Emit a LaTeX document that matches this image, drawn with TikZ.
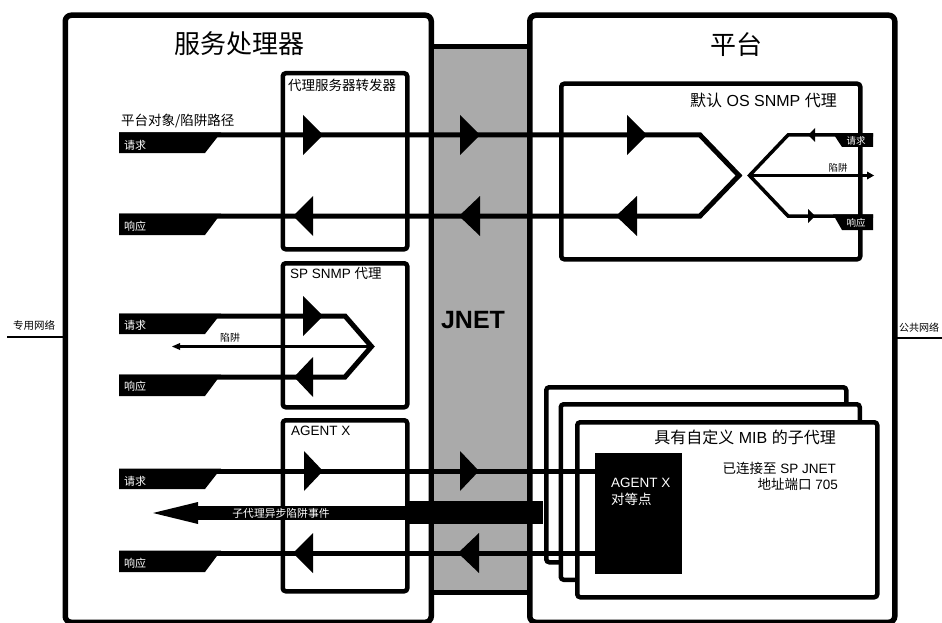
\documentclass[tikz,border=0pt]{standalone}
\usepackage{fontspec}
\setmainfont{Liberation Sans}
\newfontfamily\cjk{Noto Sans CJK SC}
\newcommand{\zhs}[1]{{\cjk #1}}
\newcommand{\arrhd}[4]{\fill (#1,{#3-#4}) -- (#2,#3) -- (#1,{#3+#4}) -- cycle;}
\definecolor{jgray}{RGB}{170,170,170}
\tikzset{
  bigbox/.style={draw=black, line width=5.5pt, rounded corners=6pt, fill=white, inner sep=0pt, anchor=north west},
  inbox/.style={draw=black, line width=4.5pt, rounded corners=3pt, fill=white, inner sep=0pt, anchor=north west},
  conn/.style={line width=5pt, line join=miter},
  sconn/.style={line width=3.5pt, line join=miter},
  tconn/.style={line width=2.2pt},
  txt/.style={inner sep=0pt, text=black},
  wtxt/.style={inner sep=0pt, text=white},
}
\begin{document}
\begin{tikzpicture}[x=1pt,y=-1pt]
\useasboundingbox (0,0) rectangle (942,623);
\fill[white] (0,0) rectangle (942,623);

% big boxes
\node[bigbox, minimum width=366pt, minimum height=607pt] (spbox) at (62.5,12.5) {};
\node[bigbox, minimum width=365pt, minimum height=607pt] (platbox) at (527,12.5) {};
% JNET column
\node[draw=black, fill=jgray, line width=5pt, inner sep=0pt, anchor=north west,
      minimum width=98.5pt, minimum height=545.5pt] (jnetcol) at (428.5,44.5) {};
\node[txt, font=\fontsize{25}{28}\selectfont\bfseries] (jnet) at (473,320) {JNET};

% titles
\node[txt, font=\cjk\fontsize{26}{30}\selectfont] (sptitle) at (239,44) {服务处理器};
\node[txt, font=\cjk\fontsize{26}{30}\selectfont] (plattitle) at (736,45) {平台};

% inner boxes (service processor)
\node[inbox, minimum width=124.5pt, minimum height=176pt] (fwd) at (280.5,71) {};
\node[inbox, minimum width=124.5pt, minimum height=144pt] (spsnmp) at (280.5,261) {};
\node[inbox, minimum width=124.5pt, minimum height=171pt] (agx) at (280.5,418) {};
\node[txt, anchor=west, font=\cjk\fontsize{13.5}{16}\selectfont] (fwdt) at (288,85) {代理服务器转发器};
\node[txt, anchor=west, font=\fontsize{13.5}{16}\selectfont] (spsnmpt) at (290,273) {SP SNMP \zhs{代理}};
\node[txt, anchor=west, font=\fontsize{13.5}{16}\selectfont] (agxt) at (291,431) {AGENT X};

% platform inner boxes
\node[inbox, minimum width=299pt, minimum height=175.5pt] (osagent) at (559,81.5) {};
\node[txt, anchor=east, font=\fontsize{16}{19}\selectfont] (osagentt) at (837,100) {\zhs{默认} OS SNMP \zhs{代理}};

\node[inbox, minimum width=300pt, minimum height=175pt] (sub3) at (544,385) {};
\node[inbox, minimum width=299pt, minimum height=175.5pt] (sub2) at (558.5,402) {};
\node[inbox, minimum width=300pt, minimum height=175pt] (sub1) at (575,420) {};
\node[fill=black, inner sep=0pt, anchor=north west, minimum width=87pt, minimum height=121pt] (peer) at (595,453) {};
\node[txt, anchor=east, font=\fontsize{16}{19}\selectfont] (sub1t) at (836,437) {\zhs{具有自定义} MIB \zhs{的子代理}};
\node[txt, anchor=east, font=\fontsize{13.5}{16}\selectfont] (conn1) at (836,468) {\zhs{已连接至} SP JNET};
\node[txt, anchor=east, font=\fontsize{13.5}{16}\selectfont] (conn2) at (838,484) {\zhs{地址端口} 705};
\node[wtxt, anchor=west, font=\fontsize{13.5}{16}\selectfont] (peert1) at (611,483) {AGENT X};
\node[wtxt, anchor=west, font=\cjk\fontsize{13.5}{16}\selectfont] (peert2) at (611,499) {对等点};

% networks
\coordinate (pn1) at (7,337);
\coordinate (pn2) at (62.5,337);
\draw[tconn] (pn1) -- (pn2);
\node[txt, font=\cjk\fontsize{10.5}{12}\selectfont] (pnl) at (34,325) {专用网络};
\coordinate (gn1) at (892,338);
\coordinate (gn2) at (945,338);
\draw[tconn] (gn1) -- (gn2);
\node[txt, anchor=west, font=\cjk\fontsize{10}{12}\selectfont] (gnl) at (899,328) {公共网络};

% ===== section 1 : proxy forwarder / default OS agent =====
\node[txt, anchor=west, font=\cjk\fontsize{13.5}{16}\selectfont] (pathl) at (121,121) {平台对象/陷阱路径};
\fill (119,132.5) -- (221,132.5) -- (205,153) -- (119,153) -- cycle;
\fill (119,213.5) -- (221,213.5) -- (205,235) -- (119,235) -- cycle;
\node[wtxt, anchor=west, font=\cjk\fontsize{11}{13}\selectfont] (q1l) at (124,145) {请求};
\node[wtxt, anchor=west, font=\cjk\fontsize{11}{13}\selectfont] (p1l) at (124,226) {响应};
\coordinate (q1s) at (119,135);
\coordinate (q1e) at (700,135);
\coordinate (x1) at (739,175.5);
\coordinate (p1e) at (700,216);
\coordinate (p1s) at (119,216);
\draw[conn] (q1s) -- (q1e) -- (x1) -- (p1e) -- (p1s);
\arrhd{303}{323}{135}{20}
\arrhd{460}{480}{135}{20}
\arrhd{627}{647}{135}{20}
\arrhd{313}{293}{216}{20}
\arrhd{480}{459}{216}{20}
\arrhd{637}{616}{216}{20}

\coordinate (rq) at (873,135);
\coordinate (rq2) at (788,135);
\coordinate (rx) at (749.5,175.5);
\coordinate (rp2) at (788,216);
\coordinate (rp) at (873,216);
\coordinate (rt) at (868,175.5);
\draw[sconn] (rq) -- (rq2) -- (rx) -- (rp2) -- (rp);
\draw[tconn] (rx) -- (rt);
\fill (867,171.5) -- (874,175.5) -- (867,179.5) -- cycle;
\arrhd{815}{808}{135}{7}
\arrhd{808}{815}{216}{7}
\fill (833,133.3) -- (873,133.3) -- (873,147) -- (842,147) -- cycle;
\fill (833,214.3) -- (873,214.3) -- (873,230) -- (842,230) -- cycle;
\node[wtxt, font=\cjk\fontsize{9.5}{11}\selectfont] (rql) at (856,140.5) {请求};
\node[wtxt, font=\cjk\fontsize{9.5}{11}\selectfont] (rpl) at (856,223) {响应};
\node[txt, font=\cjk\fontsize{9.5}{11}\selectfont] (rtl) at (838,168) {陷阱};

% ===== section 2 : SP SNMP agent =====
\fill (119,313.5) -- (221,313.5) -- (205,334) -- (119,334) -- cycle;
\fill (119,374.5) -- (221,374.5) -- (205,396) -- (119,396) -- cycle;
\node[wtxt, anchor=west, font=\cjk\fontsize{11}{13}\selectfont] (q2l) at (124,325) {请求};
\node[wtxt, anchor=west, font=\cjk\fontsize{11}{13}\selectfont] (p2l) at (124,386) {响应};
\coordinate (q2s) at (119,316);
\coordinate (q2e) at (345,316);
\coordinate (x2) at (371.5,346.5);
\coordinate (p2e) at (345,377);
\coordinate (p2s) at (119,377);
\draw[conn] (q2s) -- (q2e) -- (x2) -- (p2e) -- (p2s);
\arrhd{303}{323}{316}{20}
\arrhd{313}{294}{377}{20}
\coordinate (t2e) at (179,346.5);
\draw[tconn] (x2) -- (t2e);
\fill (180,343) -- (172,346.5) -- (180,350) -- cycle;
\node[txt, font=\cjk\fontsize{10}{12}\selectfont] (t2l) at (230,338) {陷阱};

% ===== section 3 : AgentX =====
\fill (119,468.5) -- (221,468.5) -- (205,489) -- (119,489) -- cycle;
\fill (119,550.5) -- (221,550.5) -- (205,572) -- (119,572) -- cycle;
\node[wtxt, anchor=west, font=\cjk\fontsize{11}{13}\selectfont] (q3l) at (124,481) {请求};
\node[wtxt, anchor=west, font=\cjk\fontsize{11}{13}\selectfont] (p3l) at (124,563) {响应};
\coordinate (q3s) at (119,471);
\coordinate (q3e) at (596,471);
\coordinate (p3e) at (596,553);
\coordinate (p3s) at (119,553);
\draw[conn] (q3s) -- (q3e);
\draw[conn] (p3e) -- (p3s);
\arrhd{304}{323}{471}{20}
\arrhd{460}{479}{471}{20}
\arrhd{313}{293}{553}{20}
\arrhd{479}{458}{553}{20}
% sub-agent trap arrow
\fill (408,500.5) rectangle (543,524);
\fill (198,506) rectangle (410,520);
\fill (198,502) -- (153,513) -- (198,524) -- cycle;
\node[wtxt, font=\cjk\fontsize{10.8}{12}\selectfont] (trapl) at (281,513) {子代理异步陷阱事件};
\end{tikzpicture}
\end{document}
